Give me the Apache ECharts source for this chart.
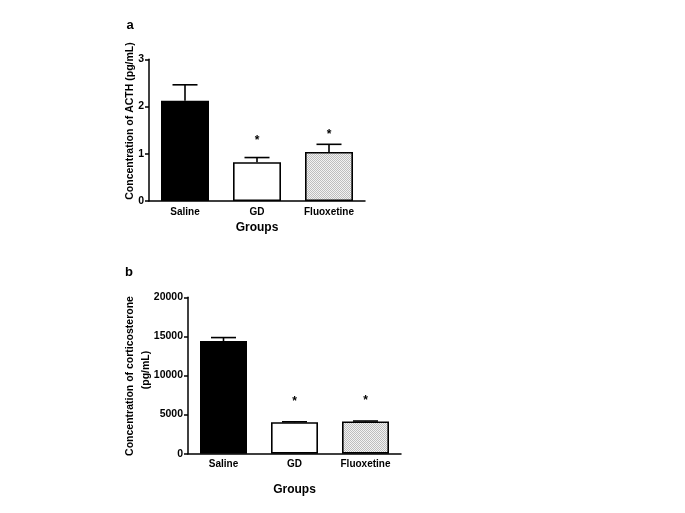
<!DOCTYPE html>
<html><head><meta charset="utf-8">
<script src="https://cdn.jsdelivr.net/npm/echarts@6/dist/echarts.min.js"></script>
<style>html,body{margin:0;padding:0;background:#fff}#c{width:685px;height:513px}</style>
</head><body><div id="c"></div>
<script>
const categories = ['Saline', 'GD', 'Fluoxetine'];
const acthMean = [2.12, 0.82, 1.04];
const acthErrTop = [2.46, 0.92, 1.20];
const acthStar = [null, 1.27, 1.41];
const yTicksA = [0, 1, 2, 3];
const cortMean = [14400, 4020, 4120];
const cortErrTop = [14850, 4080, 4180];
const cortStar = [null, 6600, 6800];
const yTicksB = [0, 5000, 10000, 15000, 20000];

const FONT = 'Liberation Sans, Arial, sans-serif';

const pat = document.createElement('canvas');
pat.width = 2; pat.height = 2;
const pc = pat.getContext('2d');
pc.fillStyle = '#f2f2f2'; pc.fillRect(0, 0, 2, 2);
pc.fillStyle = '#bdbdbd'; pc.fillRect(0, 0, 1, 1); pc.fillRect(1, 1, 1, 1);
const barColors = ['#000000', '#ffffff', {image: pat, repeat: 'repeat'}];

const chart = echarts.init(document.getElementById('c'), null, {renderer: 'canvas'});

function axisX(gi, nameGap) {
  return {
    type: 'category', gridIndex: gi, data: categories,
    axisLine: {lineStyle: {color: '#000', width: 1.5}},
    axisTick: {alignWithLabel: true, length: 4, lineStyle: {color: '#000', width: 1.5}},
    axisLabel: {color: '#000', fontFamily: FONT, fontWeight: 'bold', fontSize: 10, margin: 6},
    name: 'Groups', nameLocation: 'middle', nameGap: nameGap,
    nameTextStyle: {color: '#000', fontFamily: FONT, fontWeight: 'bold', fontSize: 12}
  };
}
function axisY(gi, ticks) {
  return {
    type: 'value', gridIndex: gi, min: ticks[0], max: ticks[ticks.length - 1],
    interval: ticks[1] - ticks[0],
    axisLine: {show: true, lineStyle: {color: '#000', width: 1.5}},
    axisTick: {show: true, length: 4, lineStyle: {color: '#000', width: 1.5}},
    axisLabel: {color: '#000', fontFamily: FONT, fontWeight: 'bold', fontSize: 10.5, margin: 5,
      formatter: v => String(v)},
    splitLine: {show: false}
  };
}
function errSeries(xi, mean, top) {
  return {
    type: 'custom', xAxisIndex: xi, yAxisIndex: xi, z: 1,
    data: mean.map((m, i) => [i, m, top[i]]),
    renderItem: function (params, api) {
      const p0 = api.coord([api.value(0), api.value(1)]);
      const p1 = api.coord([api.value(0), api.value(2)]);
      const cap = 12.5;
      return {type: 'group', children: [
        {type: 'line', shape: {x1: p0[0], y1: p0[1], x2: p1[0], y2: p1[1]}, style: {stroke: '#000', lineWidth: 1.6}},
        {type: 'line', shape: {x1: p1[0] - cap, y1: p1[1], x2: p1[0] + cap, y2: p1[1]}, style: {stroke: '#000', lineWidth: 1.6}}
      ]};
    }
  };
}
function starSeries(xi, stars) {
  return {
    type: 'custom', xAxisIndex: xi, yAxisIndex: xi, z: 3,
    data: stars.map((s, i) => [i, s]).filter(d => d[1] !== null),
    renderItem: function (params, api) {
      const p = api.coord([api.value(0), api.value(1)]);
      return {type: 'text', x: p[0], y: p[1], style: {text: '*', fill: '#000', font: 'bold 12px ' + FONT, align: 'center', verticalAlign: 'middle'}};
    }
  };
}
function barSeries(xi, vals, w) {
  return {
    type: 'bar', xAxisIndex: xi, yAxisIndex: xi, barWidth: w, z: 2,
    data: vals.map((v, i) => ({value: v, itemStyle: {color: barColors[i], borderColor: '#000', borderWidth: 1.6}}))
  };
}

chart.setOption({
  animation: false,
  backgroundColor: '#fff',
  grid: [
    {left: 149, top: 59.3, width: 216, height: 141.7},
    {left: 188, top: 297.3, width: 213, height: 156.4}
  ],
  xAxis: [axisX(0, 21), axisX(1, 30)],
  yAxis: [axisY(0, yTicksA), axisY(1, yTicksB)],
  series: [
    errSeries(0, acthMean, acthErrTop),
    barSeries(0, acthMean, 48),
    starSeries(0, acthStar),
    errSeries(1, cortMean, cortErrTop),
    barSeries(1, cortMean, 47),
    starSeries(1, cortStar)
  ],
  graphic: [
    {type: 'text', x: 130, y: 25, style: {text: 'a', fill: '#000', font: 'bold 13px ' + FONT, align: 'center', verticalAlign: 'middle'}},
    {type: 'text', x: 129, y: 272, style: {text: 'b', fill: '#000', font: 'bold 13px ' + FONT, align: 'center', verticalAlign: 'middle'}},
    {type: 'text', x: 130, y: 121, rotation: Math.PI / 2, style: {text: 'Concentration of ACTH (pg/mL)', fill: '#000', font: 'bold 10.5px ' + FONT, align: 'center', verticalAlign: 'middle'}},
    {type: 'text', x: 130, y: 376, rotation: Math.PI / 2, style: {text: 'Concentration of corticosterone', fill: '#000', font: 'bold 10.5px ' + FONT, align: 'center', verticalAlign: 'middle'}},
    {type: 'text', x: 146, y: 370, rotation: Math.PI / 2, style: {text: '(pg/mL)', fill: '#000', font: 'bold 10.5px ' + FONT, align: 'center', verticalAlign: 'middle'}}
  ]
});
</script></body></html>
